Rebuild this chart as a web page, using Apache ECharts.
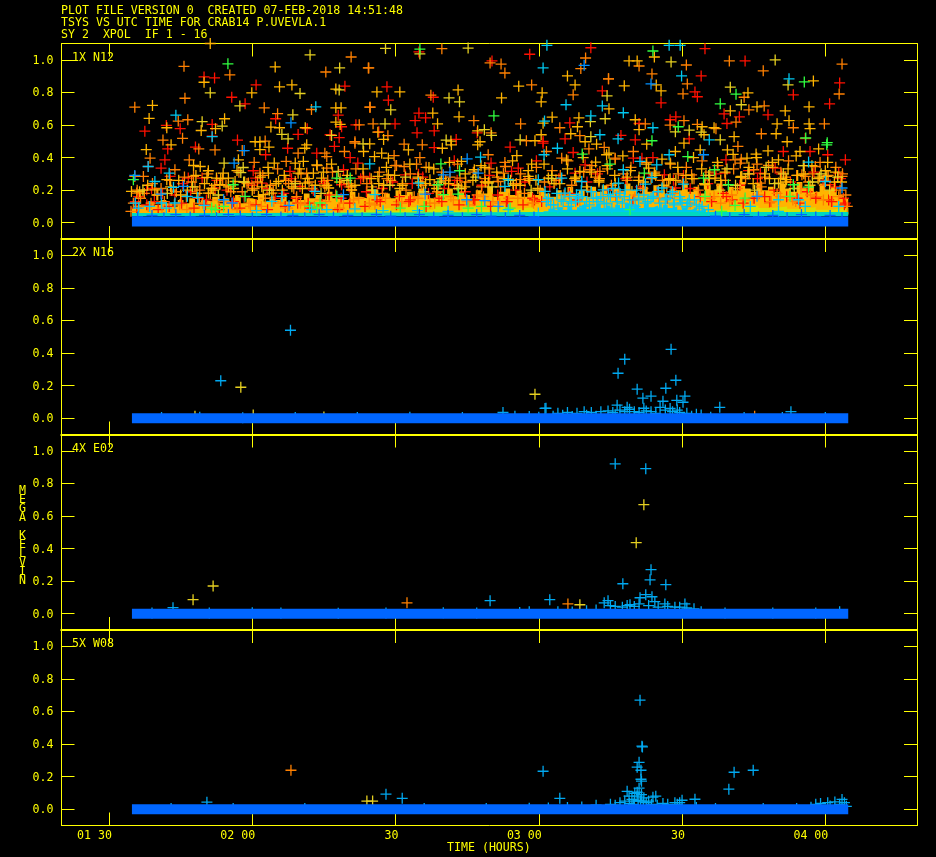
<!DOCTYPE html>
<html><head><meta charset="utf-8">
<style>html,body{margin:0;padding:0;background:#000}#c{width:936px;height:857px}</style>
<script src="https://cdn.jsdelivr.net/npm/echarts@6/dist/echarts.min.js"></script>
</head><body><div id="c"></div>
<script>
// time = minutes after 01:30 UTC, value = mega kelvin. Flat lists of t,v pairs.
const xTickValues=[0,30,60,90,120,150];
const xTickLabels=["01 30","02 00","30","03 00","30","04 00"];
const yTickValues=[0,0.2,0.4,0.6,0.8,1.0];
const panelNames=["1X N12","2X N16","4X E02","5X W08"];
const titleLines=["PLOT FILE VERSION 0  CREATED 07-FEB-2018 14:51:48","TSYS VS UTC TIME FOR CRAB14 P.UVEVLA.1","SY 2  XPOL  IF 1 - 16"];
const obsStart=4.8, obsEnd=154.8;

const n12Red=[19.9,.895,22.1,.889,30.8,.846,25.7,.77,28.5,.73,49.4,.838,12,.597,7.5,.562,14.9,.577,21.6,.603,21.6,.532,26.9,.507,34.9,.638,39.6,.542,41.5,.577,48,.66,48.7,.589,51.7,.601,46.3,.54,48.2,.522,
64.9,1.048,88.1,1.034,100.9,1.074,80.2,.993,58.2,.834,67.9,.77,103.3,.809,58.5,.752,64.9,.673,64.1,.626,66.3,.644,96.5,.613,59.9,.607,56.5,.558,64.5,.552,68.1,.564,77.1,.552,95.5,.515,90.9,.499,72.7,.511,
124.8,1.068,133.2,.993,124,.901,153,.858,122.7,.803,123.2,.773,143.3,.785,115.6,.736,150.9,.73,128.8,.668,138,.662,132,.65,117.5,.632,118.7,.65,111,.609,129.4,.609,107.2,.536,110.2,.509,121.5,.515,145.8,.517,
12.3,.453,18.1,.464,32.8,.417,37.4,.457,43.5,.427,47.2,.468,50.5,.4,52.1,.366,8.2,.345,11.7,.386,10.9,.335,12.8,.284,16.6,.274,19.5,.274,30.2,.319,30.7,.274,37.9,.315,49.1,.325,53.2,.284,44.9,.253,40,.223,32,.243,7.9,.202,22.2,.213,48.7,.233,
68.1,.461,84,.464,97.2,.431,90.9,.488,72.3,.38,80,.366,89.5,.38,85.7,.335,99.7,.355,62,.294,64.8,.298,84.3,.315,97.6,.304,54.6,.274,72.4,.233,
113.9,.4,109.8,.396,111.6,.396,116.3,.294,129.2,.386,141.2,.437,146.8,.437,150.5,.417,154.2,.386,139.5,.335,129,.304,136.4,.304,152.8,.304,118.6,.213,151,.233,
6.2,.16,9.5,.13,13.8,.17,17.1,.19,20.4,.14,24.7,.2,28.3,.16,33.1,.21,36.6,.18,39.2,.15,42.8,.2,46.1,.17,50.3,.22,53.9,.19,57.2,.21,60.8,.16,63.5,.24,66.9,.18,70.2,.21,74.6,.19,78.1,.23,81.4,.17,85.2,.2,88.7,.15,92.3,.22,96.4,.18,100.1,.25,104.5,.2,108.2,.27,111.3,.22,114.8,.19,118.2,.26,121.7,.21,125.4,.24,128.6,.18,132.1,.23,135.8,.27,139.3,.2,142.7,.25,146.2,.19,149.5,.26,152.1,.22,153.8,.15,5.5,.13,154.2,.12,
8.9,.21,11.2,.18,15.4,.24,18.8,.15,22.6,.26,26.1,.13,29.9,.23,34.8,.15,38.2,.27,41.7,.12,45.1,.24,48.6,.15,52.7,.27,56.1,.14,59.4,.25,62.8,.13,65.7,.28,69.1,.15,72.9,.26,76.3,.14,79.7,.29,83.2,.13,87.1,.25,90.6,.13,94.2,.27,98.1,.14,102.3,.3,106.2,.16,109.7,.14,113.1,.3,116.9,.15,120.3,.29,123.8,.16,127.1,.3,130.5,.14,133.9,.32,137.3,.16,140.8,.3,144.1,.15,147.6,.31,150.7,.14,153.2,.27];
const n12RedLow=[5.8,.09,7.9,.11,10.3,.08,12.6,.1,15.2,.12,17.8,.09,20.2,.11,23.1,.08,25.7,.12,27.4,.09,30.8,.11,33.2,.08,36.9,.1,39.5,.12,42.1,.09,44.6,.11,47.9,.08,50.4,.12,53.6,.1,56.8,.13,60.2,.11,63.1,.14,66.4,.1,69.7,.13,73.3,.11,76.6,.14,79.9,.1,83.4,.13,86.7,.11,89.1,.14,126.2,.13,129.3,.16,132.8,.12,135.1,.15,138.4,.13,141.9,.16,144.7,.12,148,.15,151.3,.13,154,.11];

const n12Orange=[15.7,.96,25.3,.907,15.9,.764,32.5,.705,5.4,.709,42.4,.695,45.4,.925,50.7,1.017,54.3,.95,54.7,.709,14.5,.624,16.5,.632,11.3,.507,15.4,.518,35.3,.669,52.4,.601,51.5,.497,32.7,.501,
69.7,1.068,99.8,1.011,98.8,.946,79.8,.981,82.1,.974,82.9,.919,54.4,.95,104.6,.883,88.5,.846,67.4,.783,97.2,.785,54.6,.709,76.4,.626,86.2,.607,94.4,.583,55.3,.607,80,.552,58.4,.534,98.6,.534,87.4,.503,
111,.962,120.9,.968,129.9,.993,153.5,.974,137,.932,113.7,.913,104.6,.883,121.1,.852,120.2,.791,133,.77,137.2,.717,134,.693,120.4,.626,112.3,.607,117.5,.599,123.2,.603,131.3,.617,149.8,.607,143.3,.583,127.1,.577,136.6,.546,152.9,.79,
18.8,.453,22.2,.447,27.9,.443,39.6,.427,45.2,.427,49.3,.437,51.5,.488,8.6,.396,16.8,.386,30.4,.37,37.1,.376,45.6,.406,13.8,.325,7.2,.284,5.4,.284,17.7,.284,31.6,.304,41.4,.304,45.6,.335,39,.253,29.2,.243,5.8,.182,
61.8,.482,65.6,.478,100.5,.453,103.7,.463,91.6,.437,59.7,.412,65.1,.4,94.8,.396,79.4,.417,60.2,.351,61.8,.345,64.4,.359,83,.345,100.7,.325,102.8,.315,82.6,.304,73.5,.274,81.5,.253,86.1,.264,
109.8,.437,131.7,.468,106,.396,131.1,.386,132.2,.366,147.9,.345,138.1,.351,135,.325,122,.294,145.1,.294,153.5,.284,136.4,.243,145.8,.284,
5.1,.12,6.6,.15,8.2,.1,10,.17,11.6,.13,13.1,.2,14.8,.11,16.2,.16,18,.22,19.6,.12,21.2,.18,23,.14,24.5,.23,26.3,.12,27.9,.19,29.6,.1,31.1,.25,32.7,.15,34.4,.2,36,.12,37.6,.24,39.3,.16,41,.11,42.5,.21,44.2,.14,45.8,.26,47.5,.17,49.1,.12,50.8,.2,52.3,.15,54,.24,55.7,.11,57.3,.18,59,.26,60.6,.13,62.2,.2,63.9,.16,65.5,.23,67.2,.12,68.8,.19,70.5,.26,72.1,.14,73.8,.21,75.4,.11,77.1,.17,78.7,.27,80.4,.13,82,.22,83.7,.15,85.3,.24,87,.18,88.6,.12,90.3,.2,92,.14,93.6,.26,95.3,.17,96.9,.23,98.6,.13,100.2,.2,101.9,.28,103.5,.16,105.2,.23,106.8,.19,108.5,.26,110.1,.17,111.8,.21,113.5,.27,115.1,.15,116.8,.22,118.4,.18,120.1,.25,121.7,.12,123.4,.2,125,.29,126.7,.16,128.3,.23,130,.13,131.6,.21,133.3,.27,134.9,.15,136.6,.22,138.3,.12,139.9,.18,141.6,.28,143.2,.14,144.9,.21,146.5,.25,148.2,.16,149.8,.23,151.5,.13,153.1,.2,154.3,.17,
5.9,.2,7.4,.18,9.1,.24,10.9,.21,12.7,.26,14.1,.19,15.8,.28,17.3,.25,19,.2,20.7,.3,22.1,.23,23.8,.27,25.5,.19,27.2,.31,28.9,.24,30.4,.21,32.2,.29,33.8,.23,35.3,.33,37,.26,38.7,.21,40.2,.3,41.9,.25,43.6,.35,45.2,.22,46.8,.31,48.4,.27,50.1,.24,51.7,.33,53.3,.28,55,.22,56.6,.31,58.2,.27,59.9,.35,61.5,.24,63.1,.3,64.8,.27,66.4,.34,68.1,.23,69.7,.31,71.4,.28,73,.36,74.7,.25,76.3,.31,78,.22,79.6,.33,81.3,.28,82.9,.37,84.6,.24,86.2,.3,87.9,.27,89.5,.34,91.2,.25,92.8,.32,94.5,.29,96.1,.38,97.8,.26,99.4,.31,101.1,.35,102.7,.27,104.4,.33,106,.39,107.7,.3,109.3,.34,111,.28,112.6,.37,114.3,.31,115.9,.26,117.6,.36,119.2,.3,120.9,.34,122.5,.27,124.2,.38,125.8,.31,127.5,.35,129.1,.26,130.8,.33,132.4,.39,134.1,.3,135.7,.36,137.4,.28,139,.34,140.7,.31,142.3,.38,144,.29,145.6,.35,147.3,.3,148.9,.37,150.6,.29,152.2,.34,153.6,.3];
const n12OrangeLow=[4.6,.07,6.3,.1,8.8,.12,11.1,.09,13.7,.11,16.3,.08,18.9,.12,21.4,.1,24.2,.13,26.8,.08,29.3,.12,31.9,.1,34.5,.13,37.4,.09,40.1,.12,43,.1,45.4,.13,48.3,.09,51.2,.14,54.5,.12,57.9,.15,61.3,.12,64.7,.15,68.2,.12,71.6,.16,75,.13,78.4,.16,81.8,.12,85.6,.15,88.9,.12,125.9,.15,128.1,.12,130.4,.17,133.1,.14,136,.17,138.7,.13,140.6,.16,143.8,.13,146.9,.17,149.6,.14,152.8,.16,154.6,.1];

const n12Amber=[21.2,1.1,19.9,.862,34.8,.956,35.7,.834,38.3,.846,29.9,.797,9.1,.72,47.5,.82,47.5,.705,48.6,.705,8.4,.64,12.1,.583,24.2,.638,22.3,.577,19.3,.566,33.9,.587,35.7,.583,41.1,.583,47.5,.617,48.4,.603,31.6,.497,30.6,.497,
96,.901,97.6,.846,85.8,.838,56.1,.803,60.9,.803,73.1,.815,90.7,.797,82.2,.766,90.5,.742,67.8,.673,73.3,.65,92.8,.648,98.4,.644,90.9,.611,98.1,.589,68.8,.607,56.3,.556,77.2,.564,57.5,.511,90.5,.54,96.7,.546,89.2,.503,77.7,.497,71.6,.501,99.7,.497,
114.2,1.017,108.9,.993,110.6,.993,147.5,.87,114.6,.846,107.9,.84,115.6,.809,133.8,.797,135.7,.711,146.6,.711,130.1,.687,141.6,.687,104.7,.699,110.2,.632,111,.571,124.2,.589,139.9,.607,142.4,.626,146.6,.607,146.8,.577,126.7,.583,124.6,.54,139.7,.546,130.9,.528,142,.497,
7.8,.449,13,.478,31.6,.449,33.5,.464,41.4,.478,41,.457,53.3,.437,27.1,.386,34.6,.366,39,.366,40.7,.376,43.5,.355,17.7,.351,19.1,.345,20.8,.319,12.1,.264,23.9,.304,22.5,.274,20.5,.278,33.4,.304,35.5,.253,39.6,.304,42.8,.304,44.5,.274,41.1,.243,26.4,.253,25,.274,23.2,.233,4.7,.192,9.6,.202,20.8,.182,31.3,.162,32.3,.172,34.1,.182,46,.213,50.8,.202,
54.6,.484,62.7,.447,69.8,.457,71.7,.478,77.2,.478,102.1,.482,55.6,.406,57.1,.427,58.5,.396,85.4,.412,95.8,.386,101.9,.372,104.2,.417,73.8,.376,88.5,.359,67,.339,76.5,.325,78.7,.339,98.6,.315,56.3,.284,58.5,.294,67.2,.264,87.8,.284,92,.274,79.4,.243,
112.6,.482,118.6,.437,123.8,.447,129.5,.447,120.4,.488,133.6,.396,135.5,.421,138,.441,144.7,.437,148.6,.453,140.2,.386,150,.319,113,.335,117.5,.366,104.7,.427,117.2,.264,126.9,.274,132.5,.284,141.9,.264,150.3,.284,124.8,.233,140.2,.243,109.5,.192,
6.4,.19,8.1,.23,10.2,.17,12.9,.22,14.6,.26,16.4,.2,18.2,.29,20,.24,21.5,.21,23.4,.27,25,.22,26.8,.32,28.4,.25,30,.2,31.7,.28,33.3,.34,35,.24,36.7,.29,38.3,.22,39.9,.33,41.6,.27,43.2,.23,44.9,.31,46.6,.36,48.3,.25,49.9,.29,51.5,.23,53.2,.33,54.9,.27,56.5,.24,58.1,.34,59.8,.29,61.4,.23,63,.36,64.7,.28,66.3,.24,68,.33,69.6,.27,71.3,.37,72.9,.23,74.6,.3,76.2,.26,77.9,.35,79.5,.25,81.2,.31,82.8,.27,84.5,.38,86.1,.23,87.8,.32,89.4,.26,91.1,.36,92.7,.29,94.4,.24,96,.33,97.7,.28,99.3,.4,101,.31,102.6,.26,104.3,.35,105.9,.29,107.6,.41,109.2,.32,110.9,.26,112.5,.36,114.2,.3,115.8,.39,117.5,.27,119.1,.34,120.8,.29,122.4,.4,124.1,.33,125.7,.27,127.4,.37,129,.31,130.7,.42,132.3,.28,134,.34,135.6,.4,137.3,.3,138.9,.37,140.6,.27,142.2,.33,143.9,.41,145.5,.3,147.2,.35,148.8,.28,150.5,.37,152.1,.31,153.4,.25,
15,.17,18.4,.18,21.8,.2,26.1,.21,32,.22,36.3,.2,40.5,.21,45.6,.23,50.7,.22,55,.2,57.5,.23,60.9,.21,65.2,.25,68.6,.21,71.1,.24,74.5,.22,78.8,.25,84.7,.23,88.1,.26,89.8,.21,93.2,.24,97.5,.27,100,.22,102.6,.25,106,.24,108.5,.28,111.9,.25,114.5,.29,116.2,.23,118.7,.26,122.1,.27,124.7,.24,128.1,.26,132.3,.28,134.9,.24,138.3,.27,141.7,.25,144.2,.29,146.8,.23,148.5,.27,151.9,.25];

const n12Yellow=[27.4,.717,42.1,1.03,48.3,.95,40,.793,21.2,.797,48.2,.815,19.5,.62,23.7,.593,38.5,.662,36.2,.542,37.5,.515,46.6,.536,
57.9,1.07,65.1,1.036,75.2,1.072,71.2,.766,73.4,.742,104.3,.779,59,.693,103.9,.638,57.8,.607,100.8,.62,78.6,.571,80.1,.536,100.9,.528,86.1,.509,70.6,.507,
117.7,.987,139.5,.999,130.1,.832,142.2,.846,132.4,.724,121.5,.568,118.6,.558,124,.556,128,.509,
24.1,.366,28.1,.339,27.6,.308,48,.315,53.2,.484,
7.1,.2,12.2,.18,17.5,.22,22.9,.17,28.2,.25,33.6,.2,39,.24,44.4,.18,49.8,.26,55.2,.2,58.8,.23,62.1,.28,65.9,.19,69.3,.25,73.2,.21,76.8,.28,80.2,.22,84.1,.26,88.4,.2,92.7,.27,125.6,.29,127.9,.2,129.4,.33,131.2,.23,133.8,.3,135.2,.2,137.6,.34,139.4,.24,141.2,.3,143.5,.21,145.4,.35,147.3,.25,149.1,.3,150.9,.2,152.6,.28];

const n12Green=[24.9,.975,65.1,1.066,80.6,.656,113.9,1.054,131.3,.789,145.6,.864,128,.73,119.2,.589,113.7,.503,145.9,.52,150.4,.491,5.1,.264,47.7,.274,50.5,.274,26,.233,28.5,.162,47.7,.162,44.2,.121,69.5,.361,99.1,.421,73.4,.319,68.9,.233,73.1,.176,70,.172,75.2,.09,
121.2,.406,150.3,.478,104.9,.359,112.1,.304,124.5,.274,126.8,.325,129.7,.233,143.3,.233,146.5,.219,124.8,.162,133.2,.151,142.6,.162,131.1,.106,109.1,.08,128.3,.07,
21.5,.09,22.3,.08,24,.1,42,.1,43.5,.09,61,.09,66,.1,78,.1,84,.09];

const n12Cyan=[43.3,.711,14,.66,21.6,.528,91.7,1.089,90.9,.95,95.7,.724,103.3,.717,100.9,.656,91.2,.624,102.8,.54,117.3,1.089,119.6,1.089,119.9,.901,142.4,.883,113.9,.583,107.7,.675,106.6,.515,125.7,.509,
8.2,.345,12.6,.304,9.6,.253,13.5,.217,16.4,.162,18.6,.155,36.2,.162,43.1,.192,13.8,.121,11,.121,34.1,.131,19.9,.106,30.9,.074,42.4,.08,45.6,.08,51.5,.085,
93.9,.457,91.1,.417,77.8,.402,54.6,.361,89.9,.264,94.8,.274,83.6,.264,82.9,.223,64.8,.243,99,.253,97.9,.172,103.5,.202,55.7,.172,91.3,.192,95.5,.182,64.6,.074,57.4,.074,71,.07,83.6,.08,89.9,.06,95.1,.131,98.3,.151,101.4,.151,
117.3,.417,111.2,.376,146.5,.372,114.7,.355,107.7,.325,113.7,.278,120.3,.237,106.7,.243,112.3,.237,150,.253,115.8,.213,108.1,.202,106.3,.162,114,.162,117.5,.172,140.2,.141,144.4,.141,104.6,.172,104.2,.115,110.9,.151,120,.121,134.3,.1,125.5,.08,152.8,.1,145.8,.1,140.2,.07,
92.5,.11,94,.09,96.8,.12,99.6,.1,102.4,.13,105.3,.09,107.5,.12,110.2,.1,112.8,.13,115.6,.09,118.2,.12,121,.1,123.6,.09,5.5,.12,6.2,.09,8.5,.1,12,.09,
101,.19,103,.16,105.5,.21,107,.18,109,.14,110.5,.2,112,.17,113.5,.15,115,.19,116.5,.14,118,.19,119.5,.16,121.5,.14,123,.11,92,.15,93.8,.18,96.5,.16,98.9,.2,100,.13,
91.6,.13,93.1,.11,94.7,.14,96.2,.1,97.7,.13,99.1,.16,100.6,.11,102.1,.15,103.7,.12,105,.16,106.4,.13,107.9,.16,109.4,.11,110.9,.14,112.3,.12,113.9,.16,115.3,.12,116.8,.15,118.4,.11,119.7,.14,121.2,.12,122.6,.14,124.2,.1];

const n12Blue=[38.1,.613,99.5,.966,113.5,.852,28.3,.443,5.4,.29,15.6,.223,26.2,.366,10.9,.176,49.1,.172,24,.141,25.8,.121,37.7,.106,75,.392,70,.294,71.4,.311,77.3,.304,66.2,.176,74.9,.141,78.7,.135,81.5,.1,124.5,.417,153.5,.213,135.7,.162];
// Short spikes of the main blue cluster poking out of the band
const n12BlueSpikes=[6,.035,9,.045,11.5,.03,14,.05,17,.035,20,.045,22.5,.03,25,.05,27.5,.04,30,.03,33,.05,36,.035,38.5,.045,41,.03,44,.05,47,.035,50,.045,53,.03,56,.05,59,.04,62,.03,65,.05,68,.035,71,.045,74,.03,77,.05,80,.04,83,.03,86,.045,89,.035,127,.04,130,.03,133,.05,136,.035,139,.045,142,.03,145,.05,148,.035,151,.045,153.5,.03];

// Upper edge of the region where amber crosses overlap into a solid mass
const n12SolidAmber=[4.8,.09,6,.11,7.2,.1,8.4,.13,9.6,.11,10.8,.14,12,.12,13.2,.1,14.4,.14,15.6,.12,16.8,.15,18,.11,19.2,.14,20.4,.13,21.6,.16,22.8,.12,24,.15,25.2,.13,26.4,.17,27.6,.12,28.8,.15,30,.14,31.2,.17,32.4,.13,33.6,.16,34.8,.14,36,.18,37.2,.13,38.4,.16,39.6,.14,40.8,.18,42,.15,43.2,.17,44.4,.14,45.6,.19,46.8,.15,48,.17,49.2,.14,50.4,.19,51.6,.16,52.8,.15,54,.18,55.2,.2,56.4,.16,57.6,.18,58.8,.15,60,.2,61.2,.17,62.4,.19,63.6,.16,64.8,.21,66,.17,67.2,.15,68.4,.19,69.6,.17,70.8,.21,72,.16,73.2,.19,74.4,.17,75.6,.15,76.8,.2,78,.18,79.2,.22,80.4,.16,81.6,.19,82.8,.21,84,.17,85.2,.2,86.4,.16,87.6,.19,88.8,.17,90,.21,91.2,.18,92.4,.16,93.6,.2,94.8,.17,96,.22,97.2,.18,98.4,.2,99.6,.16,100.8,.22,102,.19,103.2,.23,104.4,.18,105.6,.21,106.8,.19,108,.24,109.2,.2,110.4,.18,111.6,.22,112.8,.19,114,.23,115.2,.2,116.4,.18,117.6,.22,118.8,.2,120,.24,121.2,.19,122.4,.22,123.6,.18,124.8,.23,126,.2,127.2,.24,128.4,.19,129.6,.22,130.8,.2,132,.25,133.2,.21,134.4,.19,135.6,.24,136.8,.2,138,.22,139.2,.19,140.4,.24,141.6,.21,142.8,.19,144,.25,145.2,.21,146.4,.23,147.6,.19,148.8,.24,150,.2,151.2,.22,152.4,.17,153.6,.15,154.8,.12];
// Upper edge of the yellow-green layer and of the sky-blue layer around 03:10-03:35
const n12SolidLime=[46,.065,50,.075,53,.08,56,.09,59,.075,62,.095,65,.08,68,.1,71,.075,74,.095,77,.08,80,.1,83,.085,86,.095,89,.075,91,.07,125,.065,127,.08,130,.095,133,.105,136,.09,139,.1,142,.085,145,.095,148,.08,151,.09,154.8,.065];
const n12SolidSky=[91,.07,92,.085,93,.075,94,.095,95,.08,96,.1,97,.08,98,.095,99,.11,100,.085,101,.1,102,.115,103,.09,104,.105,105,.085,106,.11,107,.09,108,.12,109,.095,110,.11,111,.09,112,.115,113,.095,114,.105,115,.085,116,.11,117,.09,118,.1,119,.08,120,.095,121,.08,122,.09,123,.075,124,.08,125,.065];
const n12SolidTeal=[4.8,.06,30,.062,60,.065,90,.065,125,.065,154.8,.06];
const n12SolidBlue=[4.8,.007,154.8,.007];
const lowerCarpet=[obsStart,0,obsEnd,0];

const n16Sky=[38,.54,23.4,.23,117.7,.423,108,.362,106.6,.276,110.6,.178,118.7,.233,116.6,.184,113.5,.135,111.8,.123,120.6,.135,116,.104,118.9,.11,120.2,.098,106.4,.08,108.5,.067,112,.061,115.4,.067,127.9,.067,91.5,.061,91.3,.06,142.8,.04,82.5,.035,
94,.03,96,.035,98,.03,99.5,.04,101,.035,103,.04,104.5,.045,105.5,.035,107,.05,108,.04,109,.055,110,.04,111,.035,112.5,.045,113.5,.04,114.5,.03,116.5,.05,117.5,.06,118,.04,119,.05,119.5,.035,121,.03,123,.025,124,.02,
11,.004,19,.006,28,.003,39,.005,52,.004,63,.006,74,.004,85,.012,88,.01,90,.006,93,.012,95,.018,97,.01,100,.018,102,.012,106,.02,122,.012,126,.006,133,.004,141,.005,150,.004];
const n16Yellow=[27.6,.19,89.2,.147,30.2,.02,18,.012,45,.008];
const n16Orange=[135.2,.012];

const e02Sky=[106,.92,112.4,.89,107.6,.184,113.5,.27,113.3,.208,116.6,.178,79.8,.08,92.3,.086,104.5,.08,111.2,.098,112.4,.117,113.7,.104,114.3,.074,103.7,.067,109.1,.055,116.4,.06,120.6,.06,13.4,.037,
105,.05,106,.045,107.5,.04,108.5,.05,110,.045,111,.06,113,.05,115,.04,117,.045,118.5,.04,119.5,.04,121,.035,122.5,.03,88,.012,70,.006,30,.006,
9,.004,21,.005,36,.004,48,.003,58,.005,77,.004,86,.008,94,.012,97,.01,100,.018,102,.022,124,.012,129,.005,139,.004,148,.005,153,.012];
const e02Yellow=[112,.669,110.4,.436,21.8,.17,17.6,.086,98.6,.055];
const e02Orange=[62.4,.067,96.1,.06];

const w08Sky=[111.2,.669,111.6,.387,111.7,.382,111,.288,110.6,.258,111.4,.239,111.4,.184,111.5,.172,111,.129,108.5,.11,110.6,.104,110.1,.098,110.6,.08,114.5,.08,108.9,.08,122.7,.061,120,.055,113.9,.074,111.5,.09,112,.07,109.5,.06,108,.05,107,.04,113,.05,116,.035,118.5,.04,119.5,.04,105,.03,102,.025,
90.9,.233,58,.092,61.4,.067,94.4,.067,129.8,.123,130.9,.227,134.9,.239,20.5,.043,153.5,.06,152,.045,150.5,.04,149,.035,148,.03,153,.03,154,.04,
110,.05,110.8,.055,111.3,.05,111.9,.045,112.5,.04,109,.035,109.8,.03,113.6,.03,114.8,.025,106,.025,117,.03,119,.03,
13,.004,26,.005,41,.004,66,.005,79,.004,88,.006,92,.008,96,.01,99,.014,123,.01,127,.005,137,.004,144,.005,147,.012,151,.02,154.4,.018];
const w08Yellow=[54,.05,55.2,.05];
const w08Orange=[38.1,.239];

const colours={red:'#ff1000',orange:'#ff8000',amber:'#ffb400',yellow:'#e6d020',green:'#30ff40',cyan:'#00c8f0',blue:'#0090ff',sky:'#00a8f0',band:'#0066ff',axis:'#ffff00',lime:'#d8e000',teal:'#00d8c0'};
const plus='path://M0 5.5H11M5.5 0V11';
const pairs=a=>{const o=[];for(let i=0;i<a.length;i+=2)o.push([a[i],a[i+1]]);return o;};
const tops=[43.5,239,434.5,630], H=195.5, L=61.5, W=855.5;
const font='"DejaVu Sans Mono"', fs=11.6;
const grid=[],xAxis=[],yAxis=[],series=[];
tops.forEach((t,i)=>{
  grid.push({left:L,top:t,width:W,height:H,show:false});
  const tickX={show:true,inside:true,length:13,customValues:xTickValues,lineStyle:{color:colours.axis,width:1}};
  const tickY={show:true,inside:true,length:13,customValues:yTickValues,lineStyle:{color:colours.axis,width:1}};
  const ln={show:true,onZero:false,lineStyle:{color:colours.axis,width:1}};
  const lnIn={show:true,onZero:false,lineStyle:{color:colours.axis,width:2}};
  const xb={type:'value',gridIndex:i,min:-9.95,max:169.2,splitLine:{show:false},axisTick:tickX};
  xAxis.push(Object.assign({},xb,{position:'bottom',axisLine:i<3?lnIn:ln,axisLabel:i<3?{show:false}:{show:true,customValues:xTickValues,color:colours.axis,fontFamily:font,fontSize:fs,align:'right',margin:4,padding:[0,-3,0,0],formatter:v=>xTickLabels[xTickValues.indexOf(v)]||''}}));
  xAxis.push(Object.assign({},xb,{position:'top',axisLine:i>0?lnIn:ln,axisLabel:{show:false}}));
  const yb={type:'value',gridIndex:i,min:-0.1,max:1.1,splitLine:{show:false},axisLine:ln,axisTick:tickY};
  yAxis.push(Object.assign({},yb,{position:'left',axisLabel:{show:true,customValues:yTickValues,color:colours.axis,fontFamily:font,fontSize:fs,margin:8,verticalAlign:'top',lineHeight:12,padding:[-5,0,0,0],formatter:v=>v.toFixed(1)}}));
  yAxis.push(Object.assign({},yb,{position:'right',axisLabel:{show:false}}));
});
function addScatter(p,arr,c){series.push({type:'scatter',z:2+series.length,xAxisIndex:p*2,yAxisIndex:p*2,data:pairs(arr),symbol:plus,symbolSize:11,silent:true,itemStyle:{color:'transparent',borderColor:c,borderWidth:1.3,opacity:1}});}
function addBand(p,arr,c,w){series.push({type:'line',z:2+series.length,xAxisIndex:p*2,yAxisIndex:p*2,data:pairs(arr),symbol:'none',silent:true,lineStyle:{color:c,width:w,cap:'butt'}});}
function addSolid(p,arr,c,origin){series.push({type:'line',z:2+series.length,step:'end',xAxisIndex:p*2,yAxisIndex:p*2,data:pairs(arr),symbol:'none',silent:true,lineStyle:{width:0},areaStyle:{color:c,opacity:1,origin:origin}});}
addSolid(0,n12SolidAmber,colours.amber,.05);
addScatter(0,n12Red,colours.red);
addScatter(0,n12Orange,colours.orange);
addScatter(0,n12Amber,colours.amber);
addSolid(0,n12SolidLime,colours.lime,.05);
addScatter(0,n12RedLow,colours.red);
addScatter(0,n12OrangeLow,colours.orange);
addScatter(0,n12Yellow,colours.yellow);
addSolid(0,n12SolidSky,colours.cyan,.05);
addSolid(0,n12SolidTeal,colours.teal,.04);
addScatter(0,n12Green,colours.green);
addScatter(0,n12Cyan,colours.cyan);
addScatter(0,n12Blue,colours.blue);
addScatter(0,n12BlueSpikes,colours.band);
addBand(0,n12SolidBlue,colours.band,10);
[[n16Yellow,n16Orange,n16Sky],[e02Yellow,e02Orange,e02Sky],[w08Yellow,w08Orange,w08Sky]].forEach((g,k)=>{
  addScatter(k+1,g[0],colours.yellow);addScatter(k+1,g[1],colours.orange);addScatter(k+1,g[2],colours.sky);
  addBand(k+1,lowerCarpet,colours.band,10);
});
const txt=(x,y,s,extra)=>({type:'text',left:x,top:y,z:50,silent:true,style:Object.assign({text:s,fill:colours.axis,font:fs+'px '+font},extra||{})});
const graphic=[];
titleLines.forEach((s,i)=>graphic.push(txt(61,5+12*i,s)));
panelNames.forEach((s,i)=>graphic.push(txt(72,tops[i]+8,s)));
graphic.push(txt(447,842,"TIME (HOURS)"));
graphic.push(txt(19,485,"M\nE\nG\nA\n \nK\nE\nL\nV\nI\nN",{lineHeight:9}));
const chart=echarts.init(document.getElementById('c'),null,{renderer:'canvas'});
chart.setOption({backgroundColor:'#000',animation:false,grid,xAxis,yAxis,series,graphic});
</script></body></html>
